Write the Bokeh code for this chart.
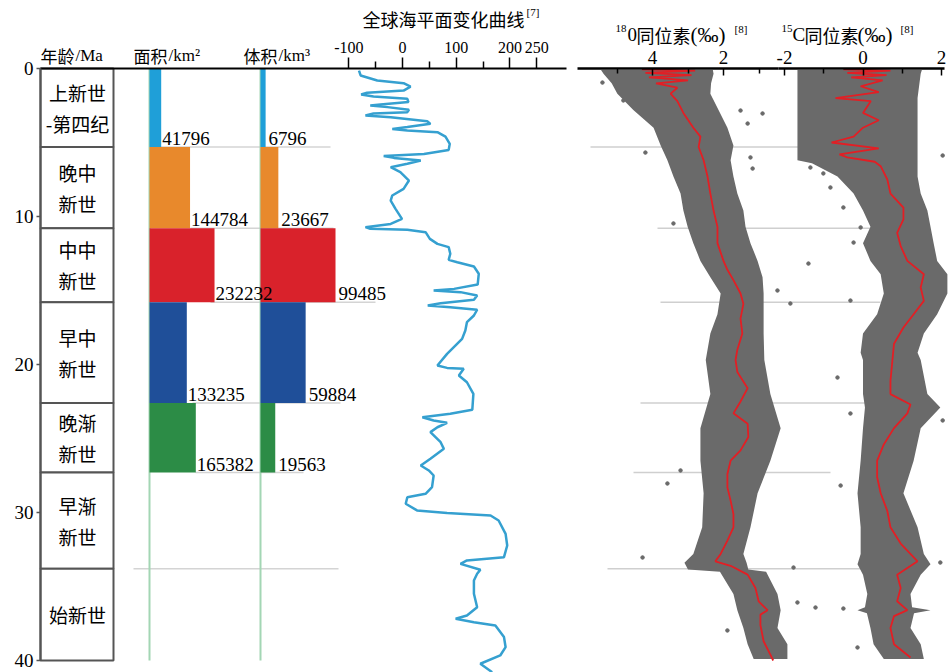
from bokeh.plotting import figure
from bokeh.models import Range1d, FixedTicker, LinearAxis, ColumnDataSource
from bokeh.embed import file_html
from bokeh.resources import INLINE
from bokeh.core.properties import value

# ---------------- data ----------------
epoch_names = ["上新世\n-第四纪", "晚中\n新世", "中中\n新世", "早中\n新世", "晚渐\n新世", "早渐\n新世", "始新世"]
epoch_top = [0.0, 5.3, 10.8, 15.8, 22.6, 27.3, 33.8]
epoch_bottom = [5.3, 10.8, 15.8, 22.6, 27.3, 33.8, 40.0]
age_ticks = [0, 10, 20, 30, 40]

bar_top = [0.0, 5.3, 10.8, 15.8, 22.6]
bar_bottom = [5.3, 10.8, 15.8, 22.6, 27.3]
area_km2 = [41796, 144784, 232232, 133235, 165382]
volume_km3 = [6796, 23667, 99485, 59884, 19563]

sea_ticks = [-100, 0, 100, 200, 250]
sea_minor = [-50, 50, 150]
sea_age = [0.14, 0.47, 0.81, 0.99, 1.22, 1.49, 1.64, 1.76, 1.89, 2.05, 2.27, 2.43, 2.5, 2.61,
           2.79, 2.95, 3.04, 3.18, 3.3, 3.56, 3.74, 3.96, 4.08, 4.19, 4.3, 4.6, 5.09, 5.5,
           5.77, 5.92, 6.04, 6.22, 6.44, 6.67, 7.0, 7.57, 8.13, 8.58, 8.92, 9.48, 10.16,
           10.5, 10.72, 10.83, 10.9, 11.06, 11.51, 11.85, 12.07, 12.52, 12.93, 13.09, 13.38,
           13.87, 14.6, 14.89, 15.0, 15.11, 15.34, 15.63, 15.86, 16.01, 16.13, 16.3, 16.69,
           17.14, 17.7, 18.27, 19.28, 20.07, 20.23, 20.29, 20.74, 21.2, 21.98, 23.06, 23.33,
           23.56, 23.78, 23.94, 24.24, 24.57, 25.25, 25.7, 26.37, 26.82, 27.16, 27.5, 28.29,
           28.74, 28.97, 29.41, 29.86, 30.04, 30.2, 30.54, 31.44, 32.23, 33.02, 33.24, 33.47,
           33.87, 34.14, 34.59, 35.49, 36.4, 36.96, 37.18, 37.41, 37.64, 38.42, 39.1, 39.66,
           40.22, 40.79]
sea_level = [-81, -78, -47, 2, 15, 2, -66, -77, -54, 9, 11, -41, -60, -28,
             12, 9, -54, -69, -22, 46, 52, 9, -19, 9, 65, 80, 88, 86,
             40, -35, -16, 34, 9, -22, -4, 12, 2, -19, -22, -13, -1,
             -22, -69, -60, 9, 43, 51, 65, 86, 89, 86, 102, 133,
             142, 140, 96, 58, 108, 139, 133, 71, 47, 89, 139, 133,
             120, 117, 111, 83, 65, 83, 114, 105, 120, 132, 130, 89,
             37, 58, 83, 65, 52, 71, 77, 52, 34, 49, 58, 55,
             43, 9, 6, 27, 83, 164, 179, 192, 195, 189, 120, 108,
             145, 139, 133, 133, 139, 120, 99, 133, 173, 189, 192, 182,
             145, 167]

d18o_major = [4, 2]
d18o_minor = [5, 3, 1]
d18o_age = [0.1, 0.35, 1.0, 1.7, 2.8, 4.0, 5.2, 6.2, 7.3, 8.45, 9.6, 10.7, 11.8, 13.0, 14.1,
            15.2, 16.6, 17.9, 19.7, 22.0, 24.3, 26.5, 28.7, 31.0, 32.8, 33.4, 33.85, 34.0,
            35.5, 36.6, 37.8, 38.9, 39.9]
d18o_left = [5.45, 5.38, 5.15, 4.99, 4.54, 3.97, 3.77, 3.58, 3.41, 3.21, 3.13, 3.01, 2.85, 2.65, 2.37,
             2.08, 2.17, 2.37, 2.50, 2.37, 2.65, 2.65, 2.56, 2.60, 2.85, 3.10, 3.00, 2.10,
             1.72, 1.61, 1.44, 1.32, 1.15]
d18o_right = [2.30, 2.28, 2.35, 2.37, 2.14, 1.89, 1.72, 1.80, 1.72, 1.61, 1.44, 1.38, 1.24, 1.04, 0.90,
              0.87, 0.87, 0.87, 0.85, 0.68, 0.39, 0.68, 1.04, 1.24, 1.44, 1.35, 1.30, 0.80,
              0.48, 0.39, 0.48, 0.20, 0.20]
d18o_mean_age = [0.05, 0.15, 0.3, 0.45, 0.6, 0.8, 1.0, 1.3, 1.7, 2.2, 3.0, 4.0, 4.6, 5.3, 6.2,
                 7.3, 8.45, 9.6, 10.7, 11.8, 13.0, 13.6, 14.3, 15.2, 15.9, 16.9, 17.9, 19.0,
                 19.7, 20.5, 21.6, 22.5, 23.3, 24.0, 24.9, 25.8, 26.5, 27.4, 28.3, 29.2, 30.1,
                 31.0, 31.9, 32.8, 33.3, 33.6, 34.2, 35.1, 36.0, 36.6, 36.9, 37.6, 38.7, 39.6, 40.0]
d18o_mean = [4.3, 2.8, 4.2, 2.9, 4.1, 3.0, 3.9, 3.3, 3.49, 3.3, 3.13, 2.85, 2.65, 2.7, 2.56,
             2.45, 2.37, 2.28, 2.17, 2.17, 2.0, 1.89, 1.72, 1.52, 1.44, 1.52, 1.47, 1.61,
             1.66, 1.61, 1.32, 1.52, 1.72, 1.32, 1.30, 1.52, 1.80, 1.89, 1.89, 1.80, 1.72,
             1.72, 1.89, 2.08, 2.23, 1.80, 1.32, 1.10, 1.01, 0.76, 0.96, 0.96, 0.87, 0.68, 0.60]
d18o_out_age = [0.95, 2.16, 2.84, 3.04, 3.72, 5.68, 6.01, 6.76, 10.47, 15.0, 27.16, 28.04, 33.04, 37.97]
d18o_out = [5.41, 4.82, 1.52, 0.90, 1.32, 4.20, 1.24, 1.18, 3.41, 0.48, 3.21, 3.58, 4.28, 1.89]

d13c_major = [-2, 0, 2]
d13c_minor = [-1, 1]
d13c_age = [0.1, 0.35, 2.0, 4.0, 6.2, 6.4, 7.3, 8.45, 9.6, 10.7, 11.8, 13.0, 13.9, 15.2, 16.6,
            17.9, 19.2, 19.7, 22.0, 22.9, 24.3, 26.5, 28.7, 31.0, 32.8, 33.5, 34.2, 35.5,
            36.4, 36.6, 36.8, 37.8, 38.9, 39.9]
d13c_left = [-1.67, -1.67, -1.67, -1.67, -1.67, -1.30, -0.65, -0.24, 0.0, 0.19, 0.0, 0.19, 0.45, 0.53, 0.36,
             0.0, -0.06, 0.0, 0.0, 0.05, 0.0, -0.06, -0.14, -0.06, -0.06, -0.14, 0.0, 0.11,
             0.05, -0.14, 0.10, 0.19, 0.27, 0.53]
d13c_right = [1.50, 1.47, 1.39, 1.39, 1.39, 1.39, 1.39, 1.47, 1.64, 1.72, 1.80, 1.89, 2.15, 2.15, 1.89,
              1.55, 1.39, 1.47, 1.64, 1.97, 1.47, 1.29, 1.03, 1.39, 1.55, 1.72, 1.47, 1.21,
              1.25, 1.72, 1.30, 1.21, 1.47, 1.55]
d13c_mean_age = [0.05, 0.15, 0.3, 0.45, 0.6, 0.8, 1.2, 1.6, 2.0, 2.2, 3.0, 3.5, 4.0, 4.6, 5.0,
                 5.4, 5.8, 6.0, 6.3, 6.6, 7.5, 8.45, 9.4, 10.2, 11.1, 12.0, 13.0, 13.9, 14.8,
                 15.7, 16.6, 17.5, 18.6, 19.7, 21.1, 22.0, 22.7, 23.3, 24.3, 25.4, 26.5, 27.6,
                 28.7, 29.9, 31.0, 32.1, 33.3, 34.2, 35.1, 36.0, 36.6, 37.0, 37.8, 38.9, 39.8]
d13c_mean = [-0.5, 0.7, -0.4, 0.6, -0.3, 0.5, -0.06, 0.4, -0.7, 0.2, 0.0, 0.4, 0.0, -0.24, -0.8,
             0.4, -0.6, -0.4, 0.3, 0.45, 0.62, 0.70, 1.03, 1.03, 0.87, 0.96, 1.13, 1.55, 1.47,
             1.55, 1.29, 1.03, 0.79, 0.75, 0.70, 0.70, 1.21, 1.13, 0.79, 0.53, 0.36, 0.36,
             0.45, 0.62, 0.70, 0.96, 1.39, 0.87, 0.96, 0.87, 1.13, 0.79, 0.70, 0.79, 1.21]
d13c_out_age = [5.88, 6.69, 7.09, 8.04, 9.39, 10.74, 11.76, 13.18, 15.68, 15.88, 20.88, 23.31,
                23.78, 28.18, 33.38, 33.72, 36.08, 36.42, 36.49, 39.12]
d13c_out = [2.03, -1.34, -1.01, -0.83, -0.50, -0.06, -0.24, -1.39, -0.32, -1.85, -0.65, -0.32,
            2.03, -0.57, 1.97, -1.77, -1.67, -1.21, -0.50, -0.14]

# header texts (pieces so each uses a fitting font)
head_text = ["年龄", "/Ma", "面积", "/km²", "体积", "/km³",
             "全球海平面变化曲线", "[7]",
             "18", "0", "同位素", "(‰)", "[8]",
             "15", "C", "同位素", "(‰)", "[8]"]

# ---------------- layout / style ----------------
W, H = 948, 672
SERIF = "Liberation Serif"
CJK = "Noto Sans CJK SC"
TOP = 68.0          # pixel row of age 0
PX = 14.8           # pixels per Ma


def age_at(py):
    return (py - TOP) / PX


def lin_range(zero_px, per_unit, zero_val=0.0, reverse=False):
    s = -1.0 if reverse else 1.0
    return Range1d(zero_val + s * (0 - zero_px) / per_unit, zero_val + s * (W - zero_px) / per_unit)


def val_at(px, zero_px, per_unit, zero_val=0.0, reverse=False):
    s = -1.0 if reverse else 1.0
    return zero_val + s * (px - zero_px) / per_unit


p = figure(width=W, height=H, x_range=Range1d(0, W),
           y_range=Range1d(start=age_at(H), end=age_at(0)),
           x_axis_location=None, y_axis_location=None,
           output_backend="svg", toolbar_location=None, min_border=0)
p.outline_line_color = None
p.xgrid.visible = False
p.ygrid.visible = False
p.background_fill_color = "white"
p.border_fill_color = "white"

SEA = (402, 0.537)
O18 = (652, 35.5, 4.0, True)
C13 = (862.5, 39.25)
p.extra_x_ranges = {
    "area": lin_range(149, 0.00028),
    "vol": lin_range(260, 0.000754),
    "sea": lin_range(*SEA),
    "d18o": lin_range(*O18),
    "d13c": lin_range(*C13),
}


def style_axis(a, size, color="black"):
    a.major_label_text_font = SERIF
    a.major_label_text_font_size = size
    a.major_label_text_color = color


# y axis (age)
ya = LinearAxis(fixed_location=40, bounds=(0, 40), ticker=FixedTicker(ticks=age_ticks))
ya.major_tick_out = 4
ya.major_tick_in = 0
ya.minor_tick_line_color = None
ya.axis_line_color = "#555555"
ya.axis_line_width = 2
ya.major_tick_line_color = "#555555"
ya.major_tick_line_width = 1.5
ya.major_label_standoff = 3
style_axis(ya, "19px")
p.add_layout(ya, "left")

# sea-level axis (also the long top line)
sa = LinearAxis(x_range_name="sea", fixed_location=0,
                bounds=(val_at(40, *SEA), val_at(566, *SEA)),
                ticker=FixedTicker(ticks=sea_ticks, minor_ticks=sea_minor),
                major_label_overrides={-100: "-100"})
sa.major_tick_out = 11
sa.major_tick_in = 0
sa.minor_tick_out = 7
sa.minor_tick_in = 0
sa.axis_line_width = 2
sa.major_tick_line_width = 1.5
sa.minor_tick_line_width = 1.5
sa.major_label_standoff = 5
style_axis(sa, "16px")
p.add_layout(sa, "above")

# isotope axes
for rng, ticks, minor, x0, x1, conv, over in (
        ("d18o", d18o_major, d18o_minor, 577, 778, O18, {}),
        ("d13c", d13c_major, d13c_minor, 778, 944, C13, {-2: "-2"})):
    b0, b1 = sorted((val_at(x0, *conv), val_at(x1, *conv)))
    a = LinearAxis(x_range_name=rng, fixed_location=0, bounds=(b0, b1),
                   ticker=FixedTicker(ticks=ticks, minor_ticks=minor),
                   major_label_overrides=over)
    a.major_tick_out = 0
    a.major_tick_in = 7
    a.minor_tick_out = 0
    a.minor_tick_in = 5
    a.axis_line_width = 2.5
    a.major_tick_line_width = 1.5
    a.minor_tick_line_width = 1.5
    a.major_label_standoff = 5
    style_axis(a, "19px")
    p.add_layout(a, "above")

# faint boundary lines
bnd = epoch_bottom[:6]
p.segment(x0=[160, 190, 210, 192, 195, 133], x1=[330, 333, 375, 340, 303, 338], y0=bnd, y1=bnd,
          line_color="#d4d4d4", line_width=1.5)
p.segment(x0=[590, 657, 660, 640, 633, 607], x1=[800, 870, 880, 870, 830, 860], y0=bnd, y1=bnd,
          line_color="#cfcfcf", line_width=1.5)

# thin green guide lines under the bars
for rng in ("area", "vol"):
    p.segment(x0=0, x1=0, y0=0, y1=epoch_bottom[-1], x_range_name=rng,
              line_color="#a3d6b4", line_width=2)

bar_colors = ["#1f9fd8", "#e8892c", "#d9222b", "#1f4f99", "#2c8c46"]
p.quad(left=0, right=area_km2, top=bar_top, bottom=bar_bottom, x_range_name="area",
       fill_color=bar_colors, line_color=None)
p.quad(left=0, right=volume_km3, top=bar_top, bottom=bar_bottom, x_range_name="vol",
       fill_color=bar_colors, line_color=None)
p.text(x=area_km2, y=bar_bottom, text=[str(v) for v in area_km2], x_range_name="area",
       text_baseline="bottom", text_align="left", x_offset=1, y_offset=-2,
       text_font=value(SERIF), text_font_size="19px", text_color="black")
p.text(x=volume_km3, y=bar_bottom, text=[str(v) for v in volume_km3], x_range_name="vol",
       text_baseline="bottom", text_align="left", x_offset=3, y_offset=-2,
       text_font=value(SERIF), text_font_size="19px", text_color="black")

# epoch boxes
p.quad(left=40, right=113, top=epoch_top, bottom=epoch_bottom,
       fill_color="white", line_color="#555555", line_width=2)
p.text(x=77, y=[(t + b) / 2 for t, b in zip(epoch_top, epoch_bottom)], text=epoch_names,
       text_align="center", text_baseline="middle",
       text_font=value(CJK), text_font_size="19px", text_line_height=1.15, text_color="black")

# sea level curve
p.line(sea_level, sea_age, x_range_name="sea", line_color="#35a0d0", line_width=2.5)

# isotope clouds
CLOUD = "#6a6a6a"
RED = "#e31e24"
p.harea(x1=d18o_left, x2=d18o_right, y=d18o_age, x_range_name="d18o", fill_color=CLOUD)
p.scatter(d18o_out, d18o_out_age, x_range_name="d18o", size=3.5, color=CLOUD)
p.line(d18o_mean, d18o_mean_age, x_range_name="d18o", line_color=RED, line_width=1.8)
p.harea(x1=d13c_left, x2=d13c_right, y=d13c_age, x_range_name="d13c", fill_color=CLOUD)
p.scatter(d13c_out, d13c_out_age, x_range_name="d13c", size=3.5, color=CLOUD)
p.line(d13c_mean, d13c_mean_age, x_range_name="d13c", line_color=RED, line_width=1.8)

# headers
head_x = [40, 75, 133, 168, 243, 278, 362, 526, 615, 627, 636, 690, 734, 781, 792, 804, 857, 900]
head_py = [55, 55, 55, 55, 55, 55, 18, 11, 28, 34, 34, 34, 28, 28, 34, 34, 34, 28]
head_font = [CJK, SERIF, CJK, SERIF, CJK, SERIF, CJK, SERIF,
             SERIF, SERIF, CJK, SERIF, SERIF, SERIF, SERIF, CJK, SERIF, SERIF]
head_size = ["17px", "17px", "17px", "17px", "17px", "17px", "18px", "11px",
             "11px", "19px", "18px", "21px", "11px", "11px", "19px", "18px", "21px", "11px"]
src = ColumnDataSource(dict(x=head_x, y=[age_at(v) for v in head_py], text=head_text,
                            font=head_font, size=head_size))
p.text(x="x", y="y", text="text", text_font="font", text_font_size="size", source=src,
       text_align="left", text_baseline="middle", text_color="black")

open("out.html", "w").write(file_html(p, INLINE))
